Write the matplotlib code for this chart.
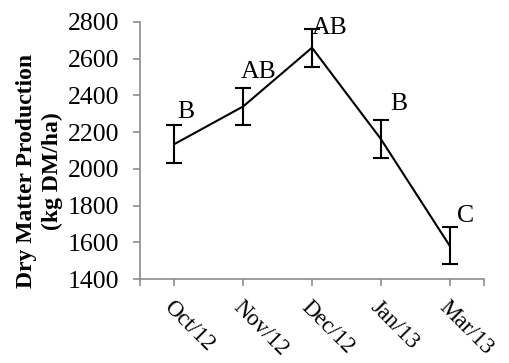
import matplotlib
matplotlib.use("Agg")
import matplotlib.pyplot as plt
import matplotlib.transforms as mtransforms

months = ["Oct/12", "Nov/12", "Dec/12", "Jan/13", "Mar/13"]
dm = [2135, 2340, 2660, 2163, 1582]
err = [102, 102, 103, 102, 102]
letters = ["B", "AB", "AB", "B", "C"]
yticks = [1400, 1600, 1800, 2000, 2200, 2400, 2600, 2800]

plt.rcParams['font.family'] = ['Liberation Serif', 'DejaVu Serif']

fig = plt.figure(figsize=(5.10, 3.63), dpi=100)
ax = fig.add_axes([0.2745, 0.2314, 0.6745, 0.708])
x = list(range(len(months)))
ax.errorbar(x, dm, yerr=err, color='black', lw=1.5, elinewidth=1.5,
            capsize=6, capthick=1.5)

label_dx = [0.16, 0.23, 0.26, 0.26, 0.23]
label_y = [2310, 2528, 2767, 2353, 1743]
for xi, dx, ly, t in zip(x, label_dx, label_y, letters):
    ax.text(xi + dx, ly, t, ha='center', va='center', fontsize=18.5)

ax.set_xlim(-0.5, 4.5)
ax.set_ylim(1400, 2800)
ax.set_yticks(yticks)
ax.set_yticklabels([str(v) for v in yticks], fontsize=18.5)
ax.set_xticks(x)
ax.set_xticklabels(months, fontsize=16.5, rotation=-45, ha='left', va='top',
                   rotation_mode='anchor')
ax.set_xticks([-0.5, 4.5], minor=True)
offset = mtransforms.ScaledTranslation(0.05, -0.01, fig.dpi_scale_trans)
for lab in ax.get_xticklabels():
    lab.set_transform(lab.get_transform() + offset)
for s in ['top', 'right']:
    ax.spines[s].set_visible(False)
for s in ['left', 'bottom']:
    ax.spines[s].set_color('#8c8c8c')
    ax.spines[s].set_linewidth(1.2)
ax.tick_params(axis='both', which='both', color='#8c8c8c', length=5, width=1.2)
ax.tick_params(axis='y', pad=10)
ax.tick_params(axis='x', which='major', pad=8)

ax.set_ylabel("Dry Matter Production\n(kg DM/ha)", fontsize=17, fontweight='bold',
              linespacing=1.3)
ax.yaxis.set_label_coords(-0.225, 0.42)

fig.savefig("out.png", dpi=100)
